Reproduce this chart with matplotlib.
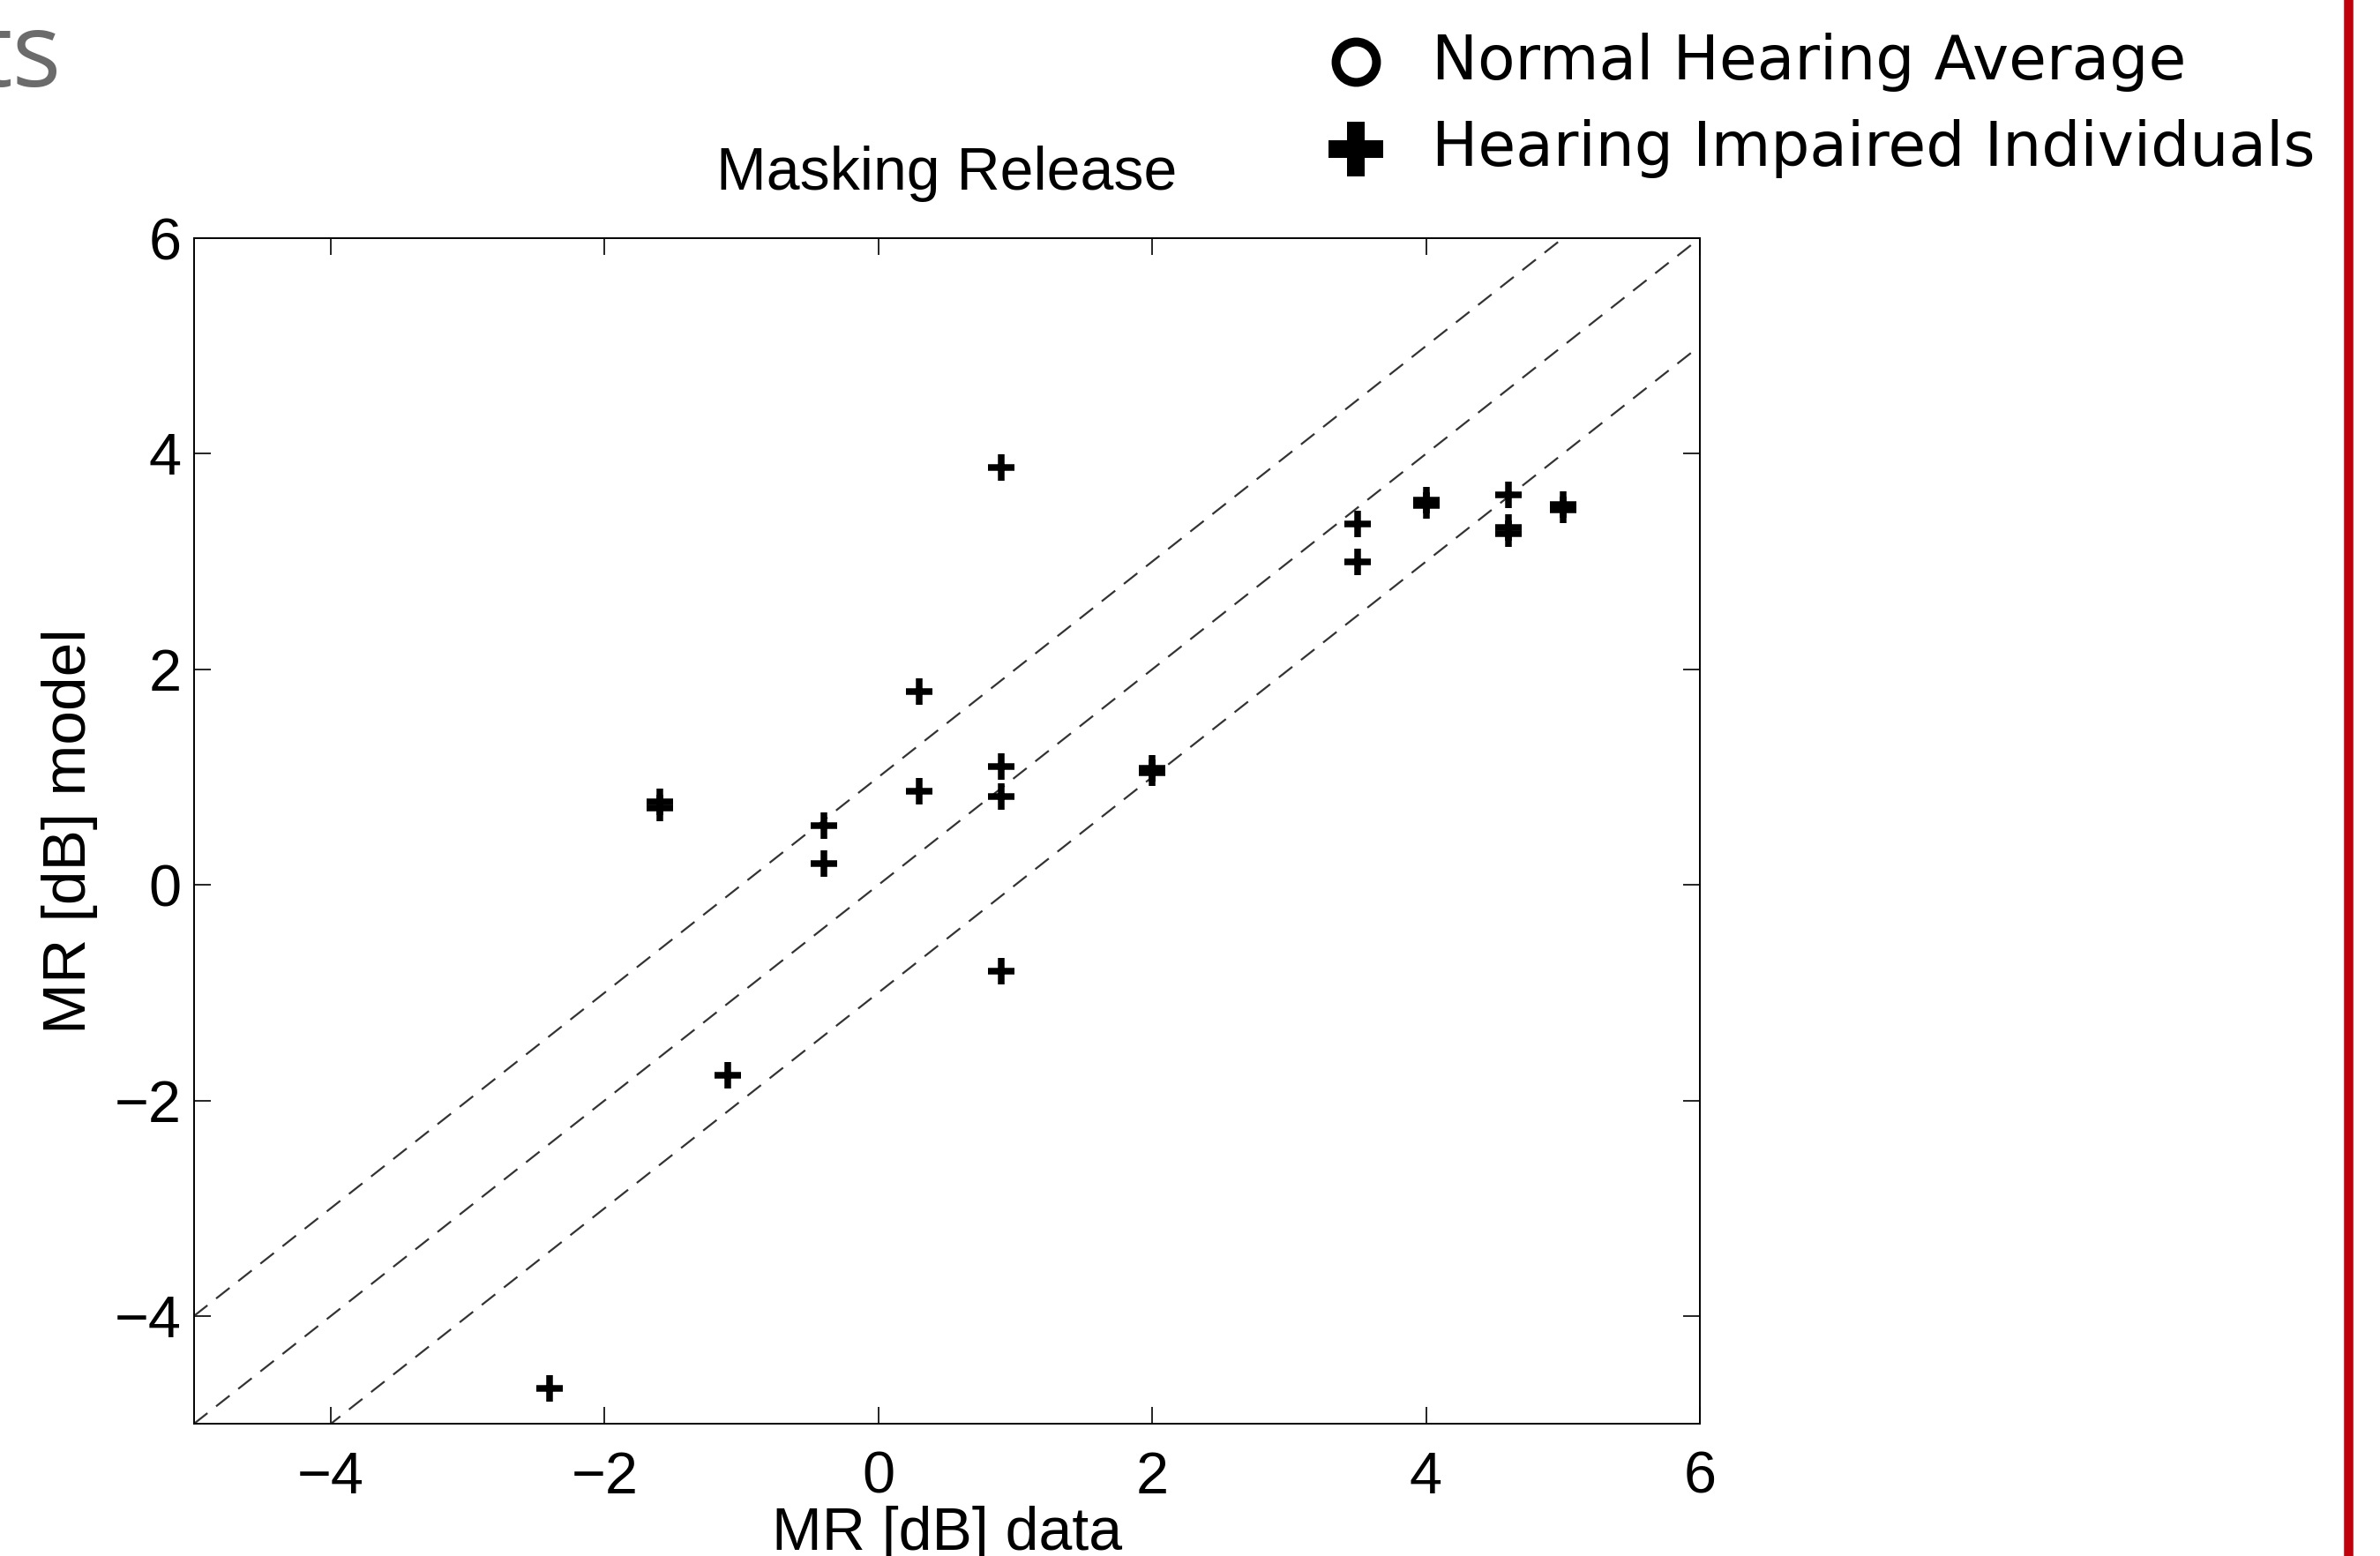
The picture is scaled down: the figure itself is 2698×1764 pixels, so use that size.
import matplotlib
matplotlib.use('Agg')
import matplotlib.pyplot as plt
from matplotlib.lines import Line2D
import numpy as np

# data
hi_x = [0.9, 3.5, 3.5, 4.0, 4.0, 4.6, 4.6, 4.6, 5.0, 5.0,
        0.3, 0.3, 0.9, 0.9, 0.9, 2.0, 2.0, -0.4, -0.4,
        -1.6, -1.6, -1.1, -2.4]
hi_y = [3.87, 3.35, 3.0, 3.57, 3.52, 3.62, 3.32, 3.26, 3.53, 3.48,
        1.79, 0.87, 1.1, 0.82, -0.8, 1.08, 1.04, 0.55, 0.2,
        0.77, 0.71, -1.77, -4.67]
offsets = [1, 0, -1]
xlim = [-5, 6]
ylim = [-5, 6]
ticks = [-4, -2, 0, 2, 4, 6]

plt.rcParams['lines.scale_dashes'] = False
fig = plt.figure(figsize=(13.49, 8.82), dpi=200)
ax = fig.add_axes([0.0815, 0.085, 0.6327, 0.7619])

hel = 'Liberation Sans'
for o in offsets:
    ax.plot(xlim, [xlim[0] + o, xlim[1] + o], color='#333333', lw=0.8, dashes=(7, 4.5))
ax.plot(hi_x, hi_y, ls='none', marker='+', ms=11, mew=2.7, color='black')

ax.set_xlim(xlim)
ax.set_ylim(ylim)
ax.set_xticks(ticks)
ax.set_yticks(ticks)
ax.tick_params(direction='in', length=7, width=0.6, top=True, right=True, labelsize=24)
ax.tick_params(axis='x', pad=11)
ax.tick_params(axis='y', pad=5)
for lab in ax.get_xticklabels() + ax.get_yticklabels():
    lab.set_family(hel)
for s in ax.spines.values():
    s.set_linewidth(0.7)
ax.set_title('Masking Release', fontsize=24.5, family=hel, pad=20)
ax.set_xlabel('MR [dB] data', fontsize=24.5, family=hel, labelpad=0)
ax.set_ylabel('MR [dB] model', fontsize=25, family=hel, labelpad=7)

# legend (slide style)
fig.add_artist(Line2D([0.5697], [1 - 70 / 1764], marker='o', ms=16.5, mfc='none', mec='black', mew=3.6, ls='none'))
fig.add_artist(Line2D([0.5697], [1 - 169 / 1764], marker='P', ms=22, mfc='black', mec='black', mew=0, ls='none'))
fig.text(0.6016, 1 - 70 / 1764, 'Normal Hearing Average', fontsize=25, family='DejaVu Sans', va='center')
fig.text(0.6016, 1 - 169 / 1764, 'Hearing Impaired Individuals', fontsize=25, family='DejaVu Sans', va='center')

# slide remnants
fig.text(69 / 2698, 1 - 98 / 1764, 'ts', fontsize=42, family='Open Sans', color='#6b6b6b', ha='right', va='baseline')
fig.add_artist(Line2D([2662 / 2698, 2662 / 2698], [0, 1], color='#c0000b', lw=3.8))

fig.savefig('out.png', dpi=200)
